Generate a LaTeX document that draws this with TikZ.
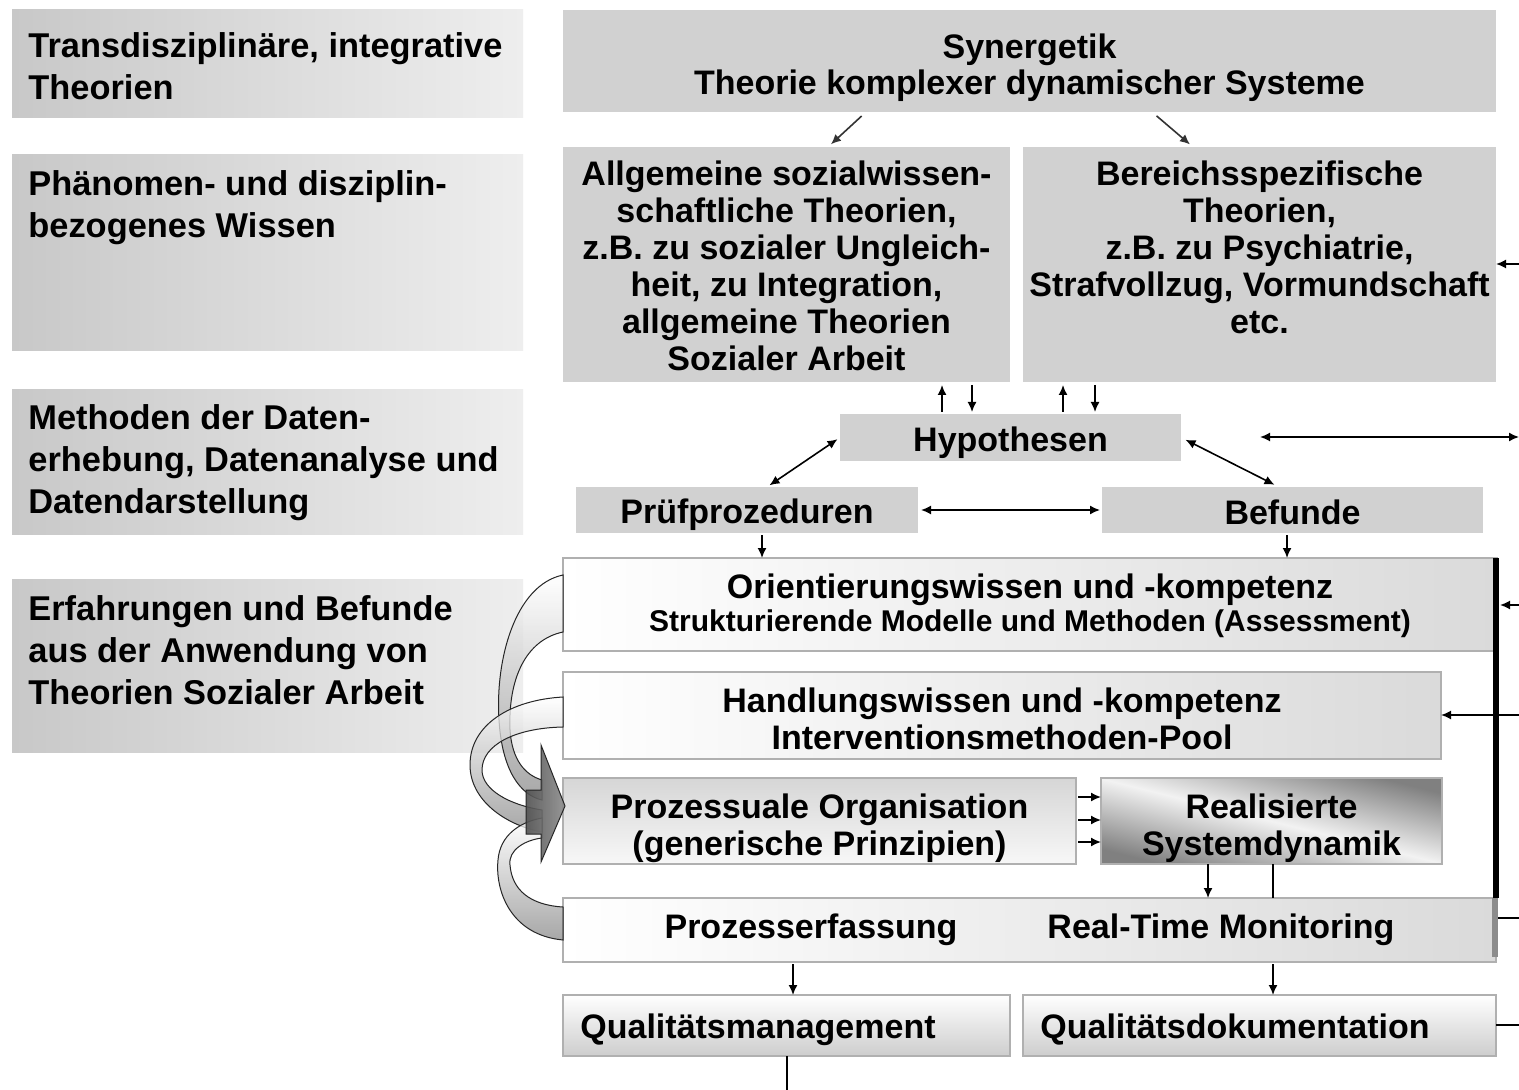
\documentclass[tikz,border=0pt]{standalone}
\usepackage{fontspec}
\setmainfont{Liberation Sans}
\usetikzlibrary{arrows.meta,fit,calc}

\definecolor{flatgray}{HTML}{D1D1D1}
\definecolor{sideL}{HTML}{C8C8C8}
\definecolor{sideR}{HTML}{EEEEEE}
\definecolor{paneR}{HTML}{DADADA}
\definecolor{paneline}{HTML}{B0B0B0}
\definecolor{dynDark}{HTML}{808080}
\definecolor{dynLight}{HTML}{F2F2F2}
\definecolor{qualBot}{HTML}{CDCDCD}
\definecolor{procTop}{HTML}{D6D6D6}
\definecolor{ribbonDark}{HTML}{8A8A8A}
\definecolor{headDark}{HTML}{505050}
\definecolor{headLight}{HTML}{8C8C8C}

\tikzset{
  area/.style={inner sep=0pt, outer sep=0pt},
  sidebox/.style={area, left color=sideL, right color=sideR},
  flatbox/.style={area, fill=flatgray},
  panebox/.style={area, draw=paneline, line width=0.8pt, left color=white, right color=paneR},
  procbox/.style={area, draw=paneline, line width=0.8pt, top color=procTop, bottom color=white!97!black},
  dynbox/.style={area, draw=paneline, line width=0.8pt, top color=dynDark, bottom color=dynDark, middle color=dynLight, shading angle=-14},
  qualbox/.style={area, draw=paneline, line width=0.8pt, top color=white, bottom color=qualBot},
  sidetext/.style={inner sep=0pt, anchor=north west, align=left, font=\fontsize{17.2}{21}\selectfont\bfseries},
  boxtext/.style={inner sep=0pt, align=center, font=\fontsize{17}{18.5}\selectfont\bfseries},
  arr/.style={line width=0.8pt, -{Latex[length=5pt,width=4.5pt]}},
  darr/.style={line width=0.8pt, {Latex[length=5pt,width=4.5pt]}-{Latex[length=5pt,width=4.5pt]}},
  joinline/.style={line width=0.8pt},
  ribbon/.style={draw=black!85, line width=0.5pt, top color=white, bottom color=ribbonDark, fill opacity=0.75},
}

\begin{document}
\begin{tikzpicture}[x=0.5pt,y=-0.5pt]
\fill[white] (0,0) rectangle (1519,1090);
\useasboundingbox (0,0) rectangle (1519,1090);

% ---- left column: knowledge levels
\node[sidebox, fit={(12,10) (523,118)}] (l1) {};
\node[sidetext] (l1t) at (28,32) {Transdisziplinäre, integrative\\Theorien};
\node[sidebox, fit={(12,155) (523,351)}] (l2) {};
\node[sidetext] (l2t) at (28,170) {Phänomen- und disziplin-\\bezogenes Wissen};
\node[sidebox, fit={(12,390) (523,534)}] (l3) {};
\node[sidetext] (l3t) at (28,404) {Methoden der Daten-\\erhebung, Datenanalyse und\\Datendarstellung};
\node[sidebox, fit={(12,579) (523,752)}] (l4) {};
\node[sidetext] (l4t) at (28,595) {Erfahrungen und Befunde\\aus der Anwendung von\\Theorien Sozialer Arbeit};

% ---- theories
\node[flatbox, fit={(563,10) (1496,112)}] (syn) {};
\node[boxtext, font=\fontsize{17}{18}\selectfont\bfseries] (synt) at ([yshift=-3.5pt]syn.center)
  {Synergetik\\Theorie komplexer dynamischer Systeme};
\node[flatbox, fit={(563,147) (1010,382)}] (gen) {};
\node[boxtext] (gent) at ([yshift=-0.5pt]gen.center)
  {Allgemeine sozialwissen-\\schaftliche Theorien,\\z.B. zu sozialer Ungleich-\\heit, zu Integration,\\allgemeine Theorien\\Sozialer Arbeit};
\node[flatbox, fit={(1023,147) (1496,382)}] (spec) {};
\node[boxtext] (spect) at ([yshift=-0.5pt]spec.center)
  {Bereichsspezifische\\Theorien,\\z.B. zu Psychiatrie,\\Strafvollzug, Vormundschaft\\etc.\\\phantom{X}};

% ---- research methods
\node[flatbox, fit={(840,414) (1181,461)}] (hyp) {};
\node[boxtext] (hypt) at ([yshift=-2.5pt]hyp.center) {Hypothesen};
\node[flatbox, fit={(576,487) (918,533)}] (pruef) {};
\node[boxtext] (prueft) at ([yshift=-2.5pt]pruef.center) {Prüfprozeduren};
\node[flatbox, fit={(1102,487) (1483,533)}] (bef) {};
\node[boxtext] (beft) at ([yshift=-1pt]bef.center) {Befunde};

% ---- practice
\node[panebox, fit={(563,558) (1497,651)}] (ori) {};
\node[boxtext, font=\fontsize{17}{16.5}\selectfont\bfseries] (orit) at ([yshift=-0.5pt]ori.center)
  {Orientierungswissen und -kompetenz\\{\fontsize{15}{16.5}\selectfont Strukturierende Modelle und Methoden (Assessment)}};
\node[panebox, fit={(563,672) (1441,759)}] (hand) {};
\node[boxtext] (handt) at ([yshift=-1.5pt]hand.center)
  {Handlungswissen und -kompetenz\\Interventionsmethoden-Pool};
\node[procbox, fit={(563,778) (1076,864)}] (proc) {};
\node[boxtext] (proct) at ([yshift=-3.5pt]proc.center)
  {Prozessuale Organisation\\(generische Prinzipien)};
\node[dynbox, fit={(1101,778) (1442,864)}] (dyn) {};
\node[boxtext] (dynt) at ([yshift=-3.5pt]dyn.center)
  {Realisierte\\Systemdynamik};
\node[panebox, fit={(563,898) (1496,962)}] (mon) {};
\node[boxtext] (mont) at (mon.center)
  {Prozesserfassung\hspace{45pt}Real-Time Monitoring};
\node[qualbox, fit={(563,995) (1010,1056)}] (qm) {};
\node[boxtext, anchor=west] (qmt) at (580,1030) {Qualitätsmanagement};
\node[qualbox, fit={(1023,995) (1496,1056)}] (qd) {};
\node[boxtext, anchor=west] (qdt) at (1040,1030) {Qualitätsdokumentation};

% ---- connectors between theory levels
\draw[arr, black!80, shorten <=3pt, shorten >=2pt] (866,0 |- syn.south) -- (828,0 |- gen.north);
\draw[arr, black!80, shorten <=3pt, shorten >=2pt] (1152,0 |- syn.south) -- (1193,0 |- spec.north);

\draw[arr, shorten <=1pt, shorten >=1.5pt] (942,0 |- hyp.north) -- (942,0 |- gen.south);
\draw[arr, shorten <=1.5pt, shorten >=1pt] (972,0 |- gen.south) -- (972,0 |- hyp.north);
\draw[arr, shorten <=1pt, shorten >=1.5pt] (1063,0 |- hyp.north) -- (1063,0 |- spec.south);
\draw[arr, shorten <=1.5pt, shorten >=1pt] (1095,0 |- spec.south) -- (1095,0 |- hyp.north);

\draw[darr, shorten <=1.5pt, shorten >=1.5pt] (hyp.west) -- (767,0 |- pruef.north);
\draw[darr, shorten <=2.5pt, shorten >=2.5pt] (hyp.east) -- (1279,0 |- bef.north);
\draw[darr, shorten <=1.5pt, shorten >=1pt] (pruef.east) -- (pruef.east -| bef.west);

\draw[arr, shorten <=1pt] (762,0 |- pruef.south) -- (762,0 |- ori.north);
\draw[arr, shorten <=1pt] (1287,0 |- bef.south) -- (1287,0 |- ori.north);

% ---- connectors inside the practice block
\foreach \yy in {797,820,842}
  \draw[arr, shorten <=1pt] (proc.east |- 0,\yy) -- (dyn.west |- 0,\yy);
\draw[arr] (1208,0 |- dyn.south) -- (1208,0 |- mon.north);
\draw[joinline] (1273,0 |- dyn.south) -- (1273,0 |- mon.north);
\draw[arr, shorten <=1pt] (793,0 |- mon.south) -- (793,0 |- qm.north);
\draw[arr, shorten <=1pt] (1273,0 |- mon.south) -- (1273,0 |- qd.north);

% ---- links leaving to the right and below
\coordinate (inB) at (1519,264);
\coordinate (hypL) at (1260,437);
\coordinate (hypR) at (1519,437);
\coordinate (inO) at (1519,605);
\coordinate (inH) at (1519,715);
\coordinate (outM) at (1519,918);
\coordinate (outQ) at (1519,1025);
\coordinate (qmout) at (787,1090);
\draw[arr] (inB) -- (inB -| spec.east);
\draw[darr] (hypL) -- (hypR);
\draw[arr, shorten >=1.5pt] (inO) -- (inO -| ori.east);
\draw[arr] (inH) -- (inH -| hand.east);
\draw[joinline] (mon.east |- outM) -- (outM);
\draw[joinline] (qd.east |- outQ) -- (outQ);
\draw[joinline] (qm.south -| qmout) -- (qmout);

% feedback bar on the right edge of the practice block
\draw[line width=3pt] ([xshift=-0.5pt]ori.north east) -- ([xshift=-0.5pt]ori.east |- mon.north);
\draw[line width=3pt, black!45] ([xshift=-0.5pt]mon.north east) -- ([xshift=-0.5pt,yshift=2.5pt]mon.south east);

% ---- curved ribbons feeding the process organisation
\path[ribbon] (563,575) .. controls (515,585) and (495,660) .. (499,720)
  .. controls (502,770) and (520,795) .. (542,800) -- (542,780)
  .. controls (525,775) and (512,760) .. (510,730)
  .. controls (508,680) and (525,640) .. (563,632) -- cycle;
\path[ribbon] (563,697) .. controls (510,700) and (470,725) .. (470,765)
  .. controls (470,800) and (505,825) .. (542,832) -- (542,810)
  .. controls (510,805) and (482,790) .. (482,770)
  .. controls (482,745) and (515,728) .. (563,727) -- cycle;
\path[ribbon] (563,940) .. controls (510,935) and (495,890) .. (498,860)
  .. controls (500,835) and (520,822) .. (542,818) -- (542,838)
  .. controls (525,840) and (508,850) .. (510,865)
  .. controls (512,890) and (530,905) .. (563,907) -- cycle;
\path[draw=black!85, line width=0.5pt, left color=headDark, right color=headLight, fill opacity=0.9]
  (526,790) -- (541,790) -- (541,745) -- (565,806) -- (541,862) -- (541,834) -- (526,834) -- cycle;
\end{tikzpicture}
\end{document}
